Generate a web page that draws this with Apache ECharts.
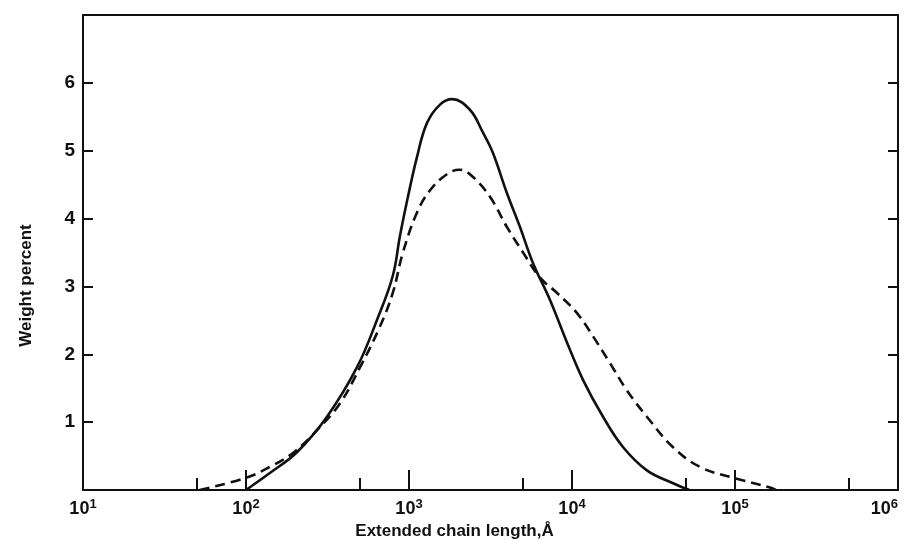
<!DOCTYPE html>
<html>
<head>
<meta charset="utf-8">
<script src="https://cdn.jsdelivr.net/npm/echarts@6/dist/echarts.min.js"></script>
<style>
  html, body { margin: 0; padding: 0; background: #fff; }
  #chart { width: 908px; height: 541px; }
</style>
</head>
<body>
<div id="chart"></div>
<script>
// extended chain length (Å) and weight percent
const solidLength = [100, 140, 206, 314, 480, 637, 794, 881, 977, 1120, 1290, 1550, 1840, 2370, 2840, 3270, 3980, 4790, 5750, 7330, 9330, 11700, 15500, 20600, 28800, 41700, 52500];
const solidWeight = [0, 0.25, 0.56, 1.08, 1.81, 2.51, 3.15, 3.75, 4.28, 4.91, 5.41, 5.68, 5.76, 5.6, 5.27, 4.97, 4.38, 3.88, 3.35, 2.8, 2.17, 1.62, 1.08, 0.63, 0.29, 0.1, 0];

const dashedLength = [52, 100, 140, 195, 272, 378, 501, 661, 794, 918, 1120, 1350, 1700, 2040, 2450, 3140, 3980, 5010, 6310, 8130, 10700, 13500, 17100, 21700, 28800, 41700, 61000, 97700, 162000, 178000];
const dashedWeight = [0, 0.18, 0.34, 0.55, 0.88, 1.28, 1.81, 2.4, 2.9, 3.5, 4.09, 4.42, 4.65, 4.72, 4.62, 4.32, 3.88, 3.5, 3.14, 2.9, 2.61, 2.26, 1.87, 1.47, 1.08, 0.63, 0.34, 0.18, 0.04, 0];

const xMajorTicks = [10, 100, 1000, 10000, 100000, 1000000];
const xMinorTicks = [50, 500, 5000, 50000, 500000];
const yTicks = [1, 2, 3, 4, 5, 6];

const FONT = "Liberation Sans";
const INK = "#111";

const chart = echarts.init(document.getElementById("chart"), null, { renderer: "canvas" });

const pairs = (xs, ys) => xs.map((x, i) => [x, ys[i]]);

const option = {
  backgroundColor: "#fff",
  animation: false,
  grid: { left: 83, right: 10, top: 15, bottom: 51, outerBoundsMode: "none", containLabel: false },
  xAxis: [
    {
      type: "log",
      logBase: 10,
      min: 10,
      max: 1000000,
      position: "bottom",
      name: "Extended chain length,Å",
      nameLocation: "middle",
      nameGap: 29,
      nameTextStyle: { fontFamily: FONT, fontSize: 17, fontWeight: "bold", color: INK, padding: [0, 72, 0, 0] },
      axisLine: { lineStyle: { color: INK, width: 2 } },
      axisTick: { inside: true, length: 20, lineStyle: { color: INK, width: 2 }, customValues: xMajorTicks },
      axisLabel: {
        margin: 8,
        customValues: xMajorTicks,
        alignMaxLabel: "right",
        formatter: v => "{b|10}{s|" + Math.round(Math.log10(v)) + "}",
        rich: {
          b: { fontFamily: FONT, fontSize: 18, fontWeight: "bold", color: INK },
          s: { fontFamily: FONT, fontSize: 13, fontWeight: "bold", color: INK, verticalAlign: "top", padding: [0, 0, 9, 0] }
        }
      },
      splitLine: { show: false }
    },
    {
      type: "log",
      logBase: 10,
      min: 10,
      max: 1000000,
      position: "bottom",
      axisLine: { show: false },
      axisTick: { inside: true, length: 12, lineStyle: { color: INK, width: 2 }, customValues: xMinorTicks },
      axisLabel: { show: false },
      splitLine: { show: false }
    },
    {
      type: "log",
      logBase: 10,
      min: 10,
      max: 1000000,
      position: "top",
      axisLine: { lineStyle: { color: INK, width: 2 } },
      axisTick: { show: false },
      axisLabel: { show: false },
      splitLine: { show: false }
    }
  ],
  yAxis: [
    {
      type: "value",
      min: 0,
      max: 7,
      interval: 1,
      position: "left",
      name: "Weight percent",
      nameLocation: "middle",
      nameGap: 48,
      nameTextStyle: { fontFamily: FONT, fontSize: 17, fontWeight: "bold", color: INK, padding: [0, 66, 0, 0] },
      axisLine: { lineStyle: { color: INK, width: 2 } },
      axisTick: { inside: true, length: 10, lineStyle: { color: INK, width: 2 }, customValues: yTicks },
      axisLabel: {
        margin: 8,
        customValues: yTicks,
        fontFamily: FONT,
        fontSize: 19,
        fontWeight: "bold",
        color: INK
      },
      splitLine: { show: false }
    },
    {
      type: "value",
      min: 0,
      max: 7,
      interval: 1,
      position: "right",
      axisLine: { lineStyle: { color: INK, width: 2 } },
      axisTick: { inside: true, length: 10, lineStyle: { color: INK, width: 2 }, customValues: yTicks },
      axisLabel: { show: false },
      splitLine: { show: false }
    }
  ],
  series: [
    {
      type: "line",
      name: "solid",
      data: pairs(solidLength, solidWeight),
      smooth: 0.4,
      showSymbol: false,
      lineStyle: { color: INK, width: 2.6, type: "solid" }
    },
    {
      type: "line",
      name: "dashed",
      data: pairs(dashedLength, dashedWeight),
      smooth: 0.4,
      showSymbol: false,
      lineStyle: { color: INK, width: 2.6, type: [10, 6] }
    }
  ]
};

chart.setOption(option);
</script>
</body>
</html>
